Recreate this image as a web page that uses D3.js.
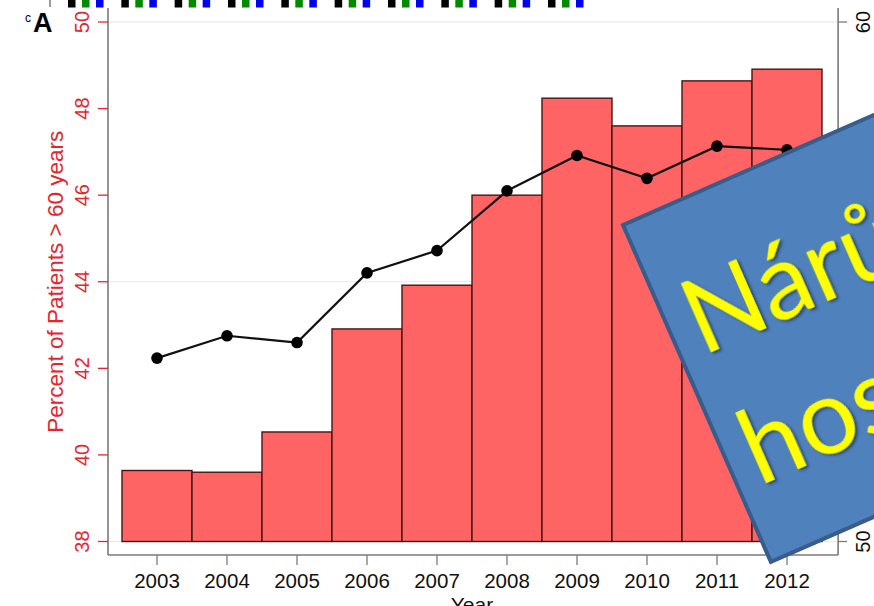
<!DOCTYPE html>
<html>
<head>
<meta charset="utf-8">
<script src="https://cdn.jsdelivr.net/npm/d3@7"></script>
<style>
  html, body { margin: 0; padding: 0; background: #fff; overflow: hidden; }
  svg { display: block; }
</style>
</head>
<body>
<div id="chart"></div>
<script>
(function chart() {

    // Data
    const years = [2003, 2004, 2005, 2006, 2007, 2008, 2009, 2010, 2011, 2012];
    const pctOver60 = [39.64, 39.60, 40.53, 42.91, 43.92, 46.00, 48.24, 47.60, 48.64, 48.91];
    const meanAge = [53.53, 53.96, 53.83, 55.17, 55.60, 56.75, 57.43, 56.99, 57.61, 57.54];
    const leftTicks = [38, 40, 42, 44, 46, 48, 50];
    const rightTicks = [50, 55, 60];
    const topSeriesColors = ["#000000", "#008a00", "#0000f0"];
    const overlayLines = ["Nárůst", "hospitalizací"];

    const WIDTH = 874;
    const HEIGHT = 606;
    const RED = "#e3262e";
    const AXIS = "#7a7a7a";
    const FONT = "'Liberation Sans', Arial, Helvetica, sans-serif";

    const svg = d3.select("#chart").append("svg")
        .attr("width", WIDTH)
        .attr("height", HEIGHT);

    const defs = svg.append("defs");
    defs.append("filter").attr("id", "shadow")
        .attr("x", "-10%").attr("y", "-10%").attr("width", "120%").attr("height", "130%")
        .append("feDropShadow")
        .attr("dx", 2).attr("dy", 2.5).attr("stdDeviation", 1.6)
        .attr("flood-color", "#000").attr("flood-opacity", 0.45);

    // scales
    const x = d3.scaleLinear().domain([2003, 2012]).range([157, 787]);
    const yLeft = d3.scaleLinear().domain([38, 50]).range([541.5, 22]);
    const yRight = d3.scaleLinear().domain([50, 60]).range([541.5, 22]);
    const plotLeft = x(2002.3), plotRight = x(2012.73);
    const plotTop = 8, plotBottom = 555;
    const barW = x(2004) - x(2003);

    // bits of the panel above (cropped bars)
    const xTop = d3.scaleLinear().domain([2003, 2012]).range([68, 548]);
    const topG = svg.append("g");
    years.forEach(yr => {
        topSeriesColors.forEach((c, k) => {
            topG.append("rect")
                .attr("x", xTop(yr) + k * 14)
                .attr("y", 0)
                .attr("width", 7.5)
                .attr("height", 7.5)
                .attr("fill", c);
        });
    });
    topG.append("line")
        .attr("x1", 50).attr("x2", 50).attr("y1", 0).attr("y2", 7)
        .attr("stroke", AXIS).attr("stroke-width", 1.5);

    // panel label
    svg.append("text").attr("x", 25).attr("y", 22)
        .style("font", `12px ${FONT}`).attr("fill", "#000").text("c");
    svg.append("text").attr("x", 33).attr("y", 32)
        .style("font", `bold 27px ${FONT}`).attr("fill", "#000").text("A");

    // gridlines at right-axis ticks
    svg.append("g").selectAll("line")
        .data(rightTicks)
        .join("line")
        .attr("x1", plotLeft).attr("x2", plotRight)
        .attr("y1", d => yRight(d)).attr("y2", d => yRight(d))
        .attr("stroke", "#e6e9ea").attr("stroke-width", 1.2);

    // bars
    svg.append("g").selectAll("rect")
        .data(years)
        .join("rect")
        .attr("x", d => x(d) - barW / 2)
        .attr("y", (d, i) => yLeft(pctOver60[i]))
        .attr("width", barW)
        .attr("height", (d, i) => yLeft(38) - yLeft(pctOver60[i]))
        .attr("fill", "#ff6464")
        .attr("stroke", "#4a1414")
        .attr("stroke-width", 1.4);

    // line + markers
    const line = d3.line()
        .x((d, i) => x(years[i]))
        .y(d => yRight(d));
    svg.append("path")
        .datum(meanAge)
        .attr("d", line)
        .attr("fill", "none")
        .attr("stroke", "#111")
        .attr("stroke-width", 2.2);
    svg.append("g").selectAll("circle")
        .data(meanAge)
        .join("circle")
        .attr("cx", (d, i) => x(years[i]))
        .attr("cy", d => yRight(d))
        .attr("r", 5.8)
        .attr("fill", "#000");

    // left axis
    const leftAxis = svg.append("g");
    leftAxis.append("line")
        .attr("x1", plotLeft).attr("x2", plotLeft)
        .attr("y1", plotTop).attr("y2", plotBottom)
        .attr("stroke", AXIS).attr("stroke-width", 1.6);
    leftAxis.selectAll("line.tick")
        .data(leftTicks)
        .join("line").attr("class", "tick")
        .attr("x1", plotLeft - 10).attr("x2", plotLeft)
        .attr("y1", d => yLeft(d)).attr("y2", d => yLeft(d))
        .attr("stroke", RED).attr("stroke-width", 1.3);
    leftAxis.selectAll("text")
        .data(leftTicks)
        .join("text")
        .attr("transform", d => `translate(89,${yLeft(d)}) rotate(-90)`)
        .attr("text-anchor", "middle")
        .attr("fill", RED)
        .style("font", `20px ${FONT}`)
        .text(d => d);
    svg.append("text")
        .attr("transform", `translate(63,${(yLeft(38) + yLeft(50)) / 2}) rotate(-90)`)
        .attr("text-anchor", "middle")
        .attr("fill", RED)
        .style("font", `22.5px ${FONT}`)
        .text("Percent of Patients > 60 years");

    // right axis
    const rightAxis = svg.append("g");
    rightAxis.append("line")
        .attr("x1", plotRight).attr("x2", plotRight)
        .attr("y1", plotTop).attr("y2", plotBottom)
        .attr("stroke", AXIS).attr("stroke-width", 1.6);
    rightAxis.selectAll("line.tick")
        .data(rightTicks)
        .join("line").attr("class", "tick")
        .attr("x1", plotRight).attr("x2", plotRight + 9)
        .attr("y1", d => yRight(d)).attr("y2", d => yRight(d))
        .attr("stroke", AXIS).attr("stroke-width", 1.3);
    rightAxis.selectAll("text")
        .data(rightTicks)
        .join("text")
        .attr("transform", d => `translate(870,${yRight(d)}) rotate(-90)`)
        .attr("text-anchor", "middle")
        .attr("fill", "#111")
        .style("font", `20px ${FONT}`)
        .text(d => d);

    // bottom axis
    const bottomAxis = svg.append("g");
    bottomAxis.append("line")
        .attr("x1", plotLeft).attr("x2", plotRight)
        .attr("y1", plotBottom).attr("y2", plotBottom)
        .attr("stroke", AXIS).attr("stroke-width", 1.6);
    bottomAxis.selectAll("line.tick")
        .data(years)
        .join("line").attr("class", "tick")
        .attr("x1", d => x(d)).attr("x2", d => x(d))
        .attr("y1", plotBottom).attr("y2", plotBottom + 10)
        .attr("stroke", AXIS).attr("stroke-width", 1.3);
    bottomAxis.selectAll("text")
        .data(years)
        .join("text")
        .attr("x", d => x(d))
        .attr("y", 588)
        .attr("text-anchor", "middle")
        .attr("fill", "#111")
        .style("font", `20.5px ${FONT}`)
        .text(d => d);
    svg.append("text")
        .attr("x", 472).attr("y", 612)
        .attr("text-anchor", "middle")
        .attr("fill", "#111")
        .style("font", `21px ${FONT}`)
        .text("Year");

    // slide overlay box
    const box = svg.append("g")
        .attr("transform", "translate(623,225) rotate(-23.7)");
    box.append("rect")
        .attr("x", 0).attr("y", 0)
        .attr("width", 700).attr("height", 368)
        .attr("fill", "#4f81bd")
        .attr("stroke", "#385d8a")
        .attr("stroke-width", 4);
    box.selectAll("text")
        .data(overlayLines)
        .join("text")
        .attr("x", 20)
        .attr("y", (d, i) => 152 + i * 142)
        .attr("fill", "#ffff00")
        .attr("filter", "url(#shadow)")
        .style("font", "104px Lato, 'Open Sans', sans-serif")
        .text(d => d);

})();
</script>
</body>
</html>
